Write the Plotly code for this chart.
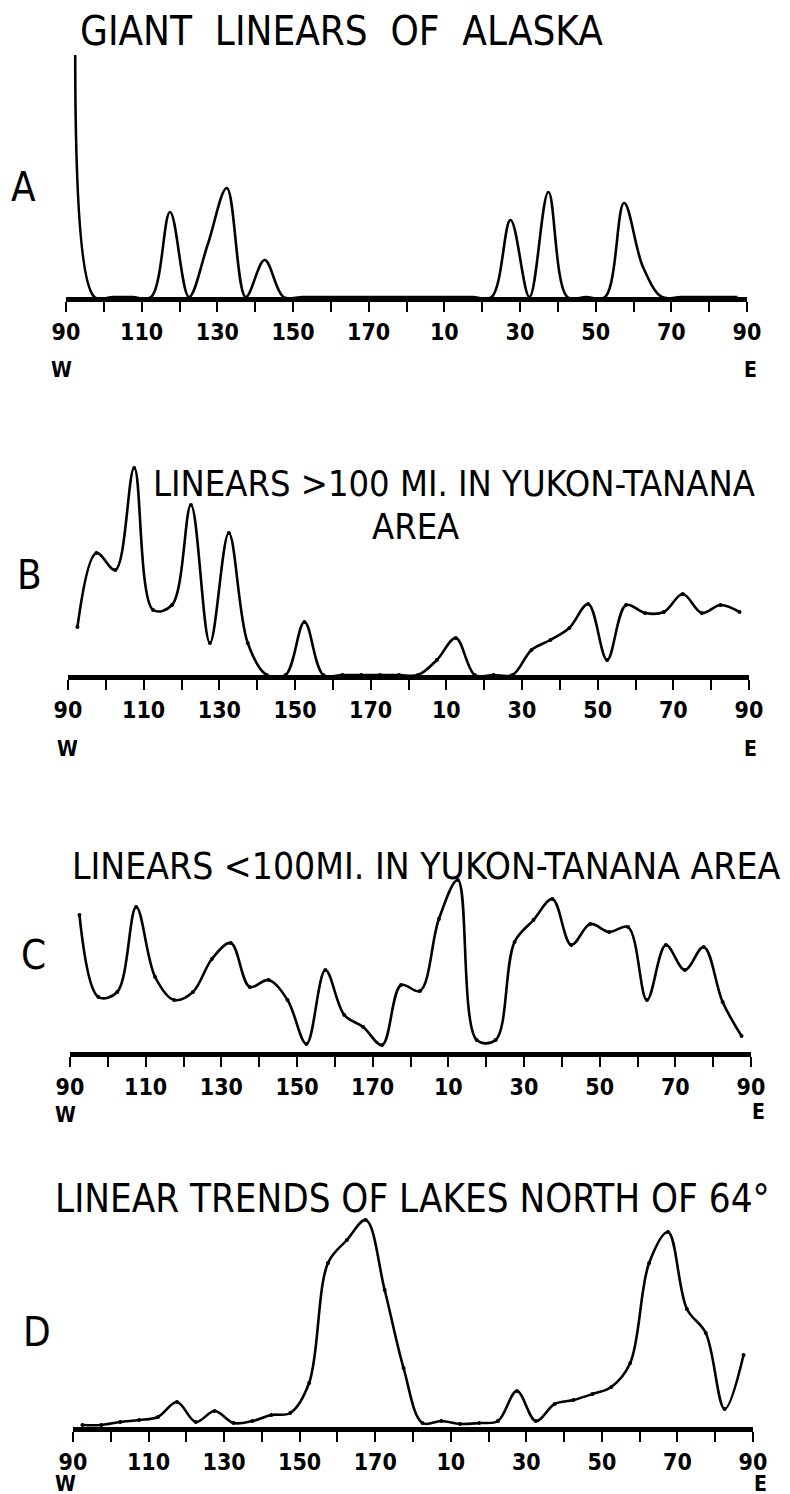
import plotly.graph_objects as go

# Azimuth bin centres (degrees measured from N90W through N to N90E)
azimuth_bins = [2.5, 7.5, 12.5, 17.5, 22.5, 27.5, 32.5, 37.5, 42.5, 47.5,
                52.5, 57.5, 62.5, 67.5, 72.5, 77.5, 82.5, 87.5, 92.5, 97.5,
                102.5, 107.5, 112.5, 117.5, 122.5, 127.5, 132.5, 137.5, 142.5, 147.5,
                152.5, 157.5, 162.5, 167.5, 172.5, 177.5]

tick_positions = [0, 10, 20, 30, 40, 50, 60, 70, 80, 90, 100,
                  110, 120, 130, 140, 150, 160, 170, 180]
tick_labels = ["90", "", "110", "", "130", "", "150", "", "170", "", "10",
               "", "30", "", "50", "", "70", "", "90"]

# Relative frequencies (arbitrary units)
giant_linears_alaska = [300, 0, 0, 0, 0, 85, 0, 53, 109, 0,
                        37, 0, 0, 0, 0, 0, 0, 0, 0, 0,
                        0, 0, 0, 77, 0, 105, 0, 0, 0, 94,
                        30, 0, 0, 0, 0, 0]

linears_gt100_yukon = [48, 122, 105, 207, 65, 70, 170, 32, 142, 32,
                       0, 0, 53, 0, 0, 0, 0, 0, 0, 15,
                       37, 0, 0, 0, 25, 35, 47, 71, 15, 70,
                       62, 63, 81, 62, 70, 63]

linears_lt100_yukon = [137, 55, 60, 145, 75, 52, 60, 93, 109, 65,
                       72, 52, 8, 82, 37, 25, 7, 67, 61, 133,
                       172, 12, 12, 110, 132, 153, 107, 128, 120, 125,
                       52, 107, 82, 105, 50, 16]

lake_trends_north64 = [2, 2, 5, 7, 10, 25, 5, 16, 4, 6,
                       12, 14, 44, 164, 187, 207, 137, 59, 4, 6,
                       3, 4, 6, 36, 6, 23, 27, 33, 40, 64,
                       164, 195, 118, 94, 18, 72]

W, H = 790, 1494
OFF = 8  # the page body has an 8px margin; positions below are screen pixels


def fx(px):
    return (px - OFF) / W


def fy(py):
    return 1 - (py - OFF) / H


# panel layout in screen pixels
panels = [
    dict(vals=giant_linears_alaska, x0=66, x1=747, axis=297, h=242, markers=False),
    dict(vals=linears_gt100_yukon, x0=68, x1=749, axis=675, h=215, markers=True),
    dict(vals=linears_lt100_yukon, x0=70, x1=751, axis=1052, h=180, markers=True),
    dict(vals=lake_trends_north64, x0=73, x1=753, axis=1427, h=215, markers=True),
]

FONT = "DejaVu Sans Condensed, DejaVu Sans, sans-serif"

fig = go.Figure()
layout_axes = {}
for i, p in enumerate(panels):
    n = "" if i == 0 else str(i + 1)
    fig.add_trace(go.Scatter(
        x=azimuth_bins, y=p["vals"],
        xaxis="x" + n, yaxis="y" + n,
        mode="lines+markers" if p["markers"] else "lines",
        line=dict(color="black", width=2.6, shape="spline", smoothing=1.0),
        marker=dict(color="black", size=4),
        showlegend=False, hoverinfo="skip",
    ))
    layout_axes["xaxis" + n] = dict(
        domain=[fx(p["x0"]), fx(p["x1"])], range=[0, 180], anchor="y" + n,
        showline=True, linewidth=5, linecolor="black",
        ticks="outside", ticklen=10, tickwidth=2, tickcolor="black",
        tickvals=tick_positions, ticktext=tick_labels,
        tickfont=dict(family=FONT, size=23, color="black", weight="bold"),
        showgrid=False, zeroline=False, automargin=False,
    )
    layout_axes["yaxis" + n] = dict(
        domain=[fy(p["axis"]), fy(p["axis"] - p["h"])], range=[0, p["h"]],
        anchor="x" + n, visible=False,
    )


def ann(text, x, y, size, bold=False):
    return dict(text=("<b>%s</b>" % text) if bold else text,
                x=fx(x), y=fy(y), xref="paper", yref="paper",
                xanchor="left", yanchor="middle", showarrow=False,
                font=dict(family=FONT, size=size, color="black"))


annotations = [
    ann("GIANT\u00a0\u00a0LINEARS\u00a0\u00a0OF\u00a0\u00a0ALASKA", 78, 31, 40),
    ann("LINEARS >100 MI. IN YUKON-TANANA", 151, 484, 36),
    ann("AREA", 370, 526, 36),
    ann("LINEARS <100MI. IN YUKON-TANANA AREA", 70, 866, 37),
    ann("LINEAR TRENDS OF LAKES NORTH OF 64°", 53, 1199, 38.2),
    ann("A", 9, 187, 40),
    ann("B", 15, 575, 40),
    ann("C", 19, 955, 40),
    ann("D", 21, 1332, 40),
]
for (wy, ey, wx, ex) in [(370, 370, 49, 742), (749, 749, 55, 742),
                         (1115, 1112, 53, 750), (1484, 1484, 53, 752)]:
    annotations.append(ann("W", wx, wy, 21, bold=True))
    annotations.append(ann("E", ex, ey, 21, bold=True))

fig.update_layout(
    width=W, height=H,
    margin=dict(l=0, r=0, t=0, b=0, pad=0, autoexpand=False),
    paper_bgcolor="white", plot_bgcolor="rgba(0,0,0,0)",
    annotations=annotations,
    **layout_axes,
)

fig.write_html("out.html")
